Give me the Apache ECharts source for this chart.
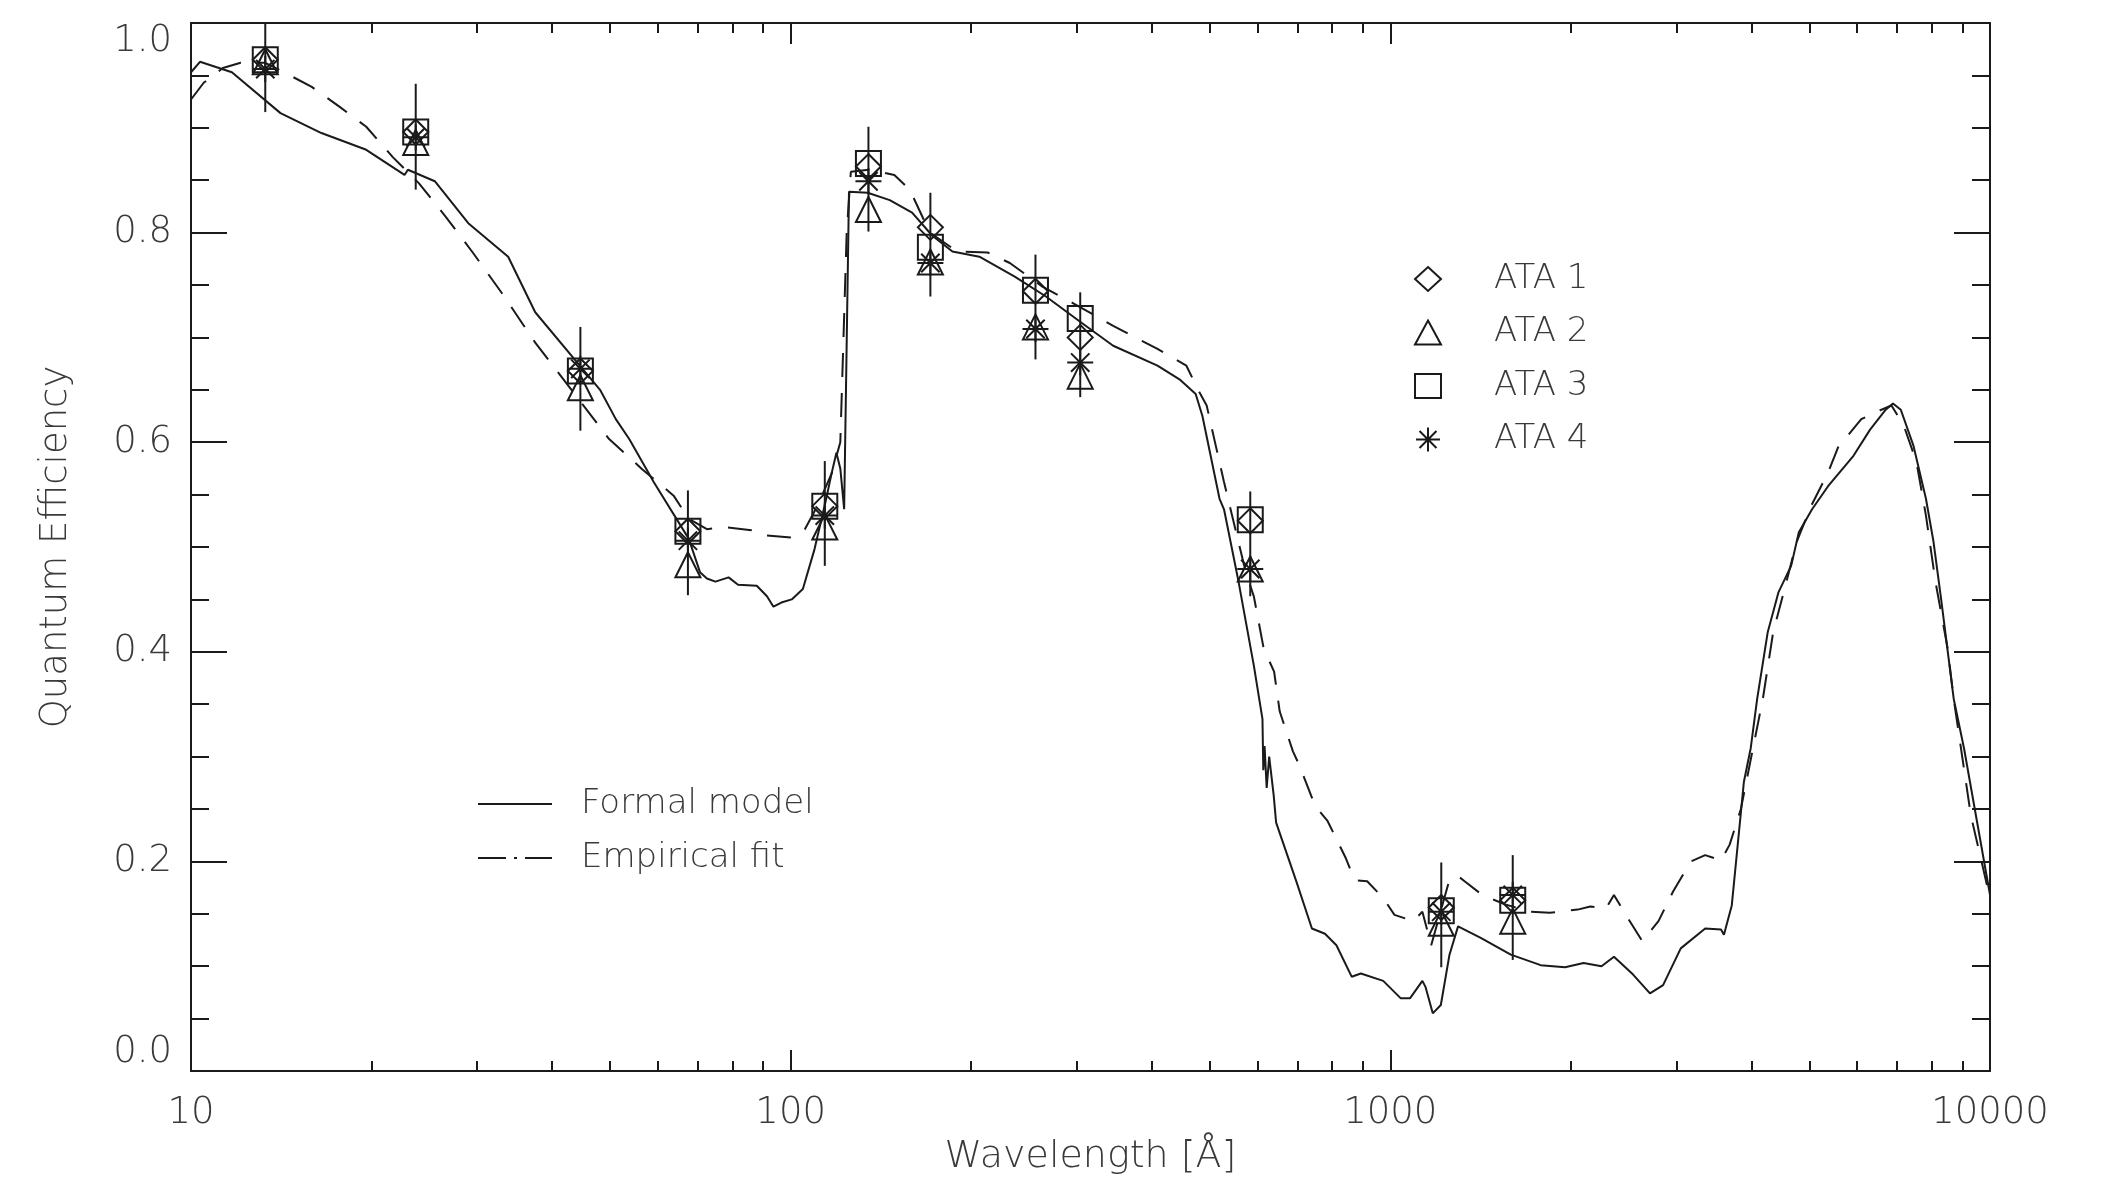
<!DOCTYPE html>
<html>
<head>
<meta charset="utf-8">
<script src="https://cdn.jsdelivr.net/npm/echarts@6/dist/echarts.min.js"></script>
<style>
html,body{margin:0;padding:0;background:#fff;}
#chart{width:2111px;height:1181px;}
</style>
</head>
<body>
<div id="chart"></div>
<script>
// ---- data ----
const pointWavelengths = [13.3, 23.7, 44.6, 67.4, 114, 134.8, 171, 256, 304, 584, 1216, 1600];
const ata1 = [0.965, 0.896, 0.668, 0.515, 0.539, 0.863, 0.805, 0.744, 0.700, 0.525, 0.156, 0.163];
const ata2 = [0.963, 0.886, 0.652, 0.483, 0.519, 0.822, 0.772, 0.710, 0.663, 0.479, 0.141, 0.143];
const ata3 = [0.965, 0.896, 0.668, 0.515, 0.539, 0.866, 0.786, 0.745, 0.718, 0.526, 0.153, 0.163];
const ata4 = [0.956, 0.891, 0.670, 0.506, 0.530, 0.849, 0.771, 0.708, 0.676, 0.479, 0.152, 0.168];
const errLow  = [0.915, 0.841, 0.611, 0.454, 0.482, 0.801, 0.739, 0.679, 0.643, 0.453, 0.099, 0.106];
const errHigh = [1.000, 0.942, 0.710, 0.554, 0.582, 0.901, 0.838, 0.779, 0.743, 0.553, 0.199, 0.206];

const modelWave = [10, 10.35, 11.7, 14.1, 16.5, 19.6, 22.7, 23.0, 25.5, 29.0, 33.8, 37.5, 44.5, 48.1, 51.1, 53.8, 59.1, 67.6, 70.6, 72.5, 74.9, 78.8, 81.7, 87.8, 91.3, 93.6, 96.5, 100.4, 104.8, 109.6, 114.3, 117, 119.2, 121, 122.8, 125.1, 134.4, 146.3, 159.4, 172.3, 186.1, 206.4, 236.4, 266.5, 305.5, 345, 409, 445, 473.6, 486, 519, 528, 557, 592, 612, 614, 617, 622, 628, 639, 645, 697, 740, 778, 813, 862, 893, 973, 1040, 1079, 1131, 1145, 1177, 1214, 1255, 1297, 1415, 1588, 1781, 1956, 2100, 2250, 2360, 2540, 2710, 2850, 3050, 3350, 3560, 3600, 3710, 3887, 3990, 4090, 4260, 4440, 4660, 4800, 5050, 5370, 5920, 6310, 6700, 6890, 7100, 7450, 7820, 8050, 8290, 8700, 9050, 10000];
const modelQE = [0.953, 0.963, 0.953, 0.914, 0.895, 0.879, 0.855, 0.860, 0.849, 0.809, 0.777, 0.724, 0.673, 0.650, 0.622, 0.603, 0.562, 0.508, 0.476, 0.470, 0.467, 0.471, 0.464, 0.463, 0.453, 0.443, 0.447, 0.450, 0.460, 0.498, 0.543, 0.570, 0.590, 0.575, 0.536, 0.839, 0.838, 0.831, 0.819, 0.797, 0.782, 0.777, 0.758, 0.739, 0.714, 0.692, 0.673, 0.660, 0.646, 0.625, 0.546, 0.536, 0.470, 0.387, 0.336, 0.287, 0.310, 0.270, 0.300, 0.263, 0.237, 0.181, 0.136, 0.131, 0.120, 0.090, 0.093, 0.086, 0.0695, 0.0695, 0.086, 0.080, 0.055, 0.063, 0.111, 0.138, 0.127, 0.111, 0.101, 0.099, 0.103, 0.100, 0.109, 0.092, 0.074, 0.082, 0.117, 0.136, 0.135, 0.130, 0.158, 0.276, 0.308, 0.355, 0.419, 0.457, 0.482, 0.514, 0.536, 0.558, 0.587, 0.612, 0.631, 0.637, 0.631, 0.597, 0.546, 0.505, 0.450, 0.355, 0.308, 0.168];

const fitWave = [10, 10.5, 11.3, 12.1, 13.3, 14.4, 15.9, 17.7, 19.6, 21.7, 24.0, 26.6, 29.5, 33.3, 37.5, 40.9, 49.8, 56.6, 63.8, 67.6, 72.5, 77.7, 86, 91.3, 100.4, 105.6, 111, 117, 121, 124, 126, 135, 148.9, 158, 170.6, 189.5, 213, 232, 262, 295, 345, 409, 457, 478, 494, 528, 574, 592, 615, 640, 654, 688, 706, 749, 785, 843, 872, 915, 973, 1016, 1092, 1131, 1170, 1254, 1297, 1330, 1423, 1553, 1706, 1844, 2053, 2155, 2288, 2360, 2470, 2630, 2800, 2960, 3170, 3350, 3560, 3680, 3842, 4180, 4350, 4530, 4760, 5030, 5370, 5580, 6100, 6590, 6850, 7180, 7540, 7820, 8110, 8500, 8700, 9290, 10000];
const fitQE = [0.927, 0.943, 0.957, 0.962, 0.962, 0.952, 0.939, 0.920, 0.901, 0.872, 0.847, 0.815, 0.781, 0.739, 0.695, 0.667, 0.603, 0.574, 0.549, 0.527, 0.517, 0.519, 0.516, 0.511, 0.509, 0.517, 0.540, 0.570, 0.600, 0.800, 0.858, 0.860, 0.855, 0.841, 0.800, 0.782, 0.781, 0.771, 0.749, 0.733, 0.711, 0.689, 0.673, 0.650, 0.635, 0.562, 0.476, 0.453, 0.403, 0.381, 0.343, 0.305, 0.291, 0.253, 0.239, 0.203, 0.182, 0.181, 0.165, 0.149, 0.143, 0.152, 0.120, 0.182, 0.186, 0.181, 0.168, 0.159, 0.152, 0.151, 0.154, 0.157, 0.155, 0.168, 0.149, 0.124, 0.143, 0.171, 0.200, 0.206, 0.201, 0.216, 0.250, 0.355, 0.419, 0.457, 0.505, 0.539, 0.571, 0.595, 0.622, 0.631, 0.635, 0.616, 0.581, 0.530, 0.467, 0.403, 0.355, 0.244, 0.165];

const xMajorTicks = [10, 100, 1000, 10000];
const yTickLabels = ['0.0', '0.2', '0.4', '0.6', '0.8', '1.0'];
const seriesNames = ['ATA 1', 'ATA 2', 'ATA 3', 'ATA 4'];
const lineNames = ['Formal model', 'Empirical fit'];

// ---- build ----
const xMinorTicks = [];
for (let d = 10; d < 10000; d *= 10) for (let m = 2; m <= 9; m++) xMinorTicks.push(d * m);

const zip = (a, b) => a.map((v, i) => [v, b[i]]);
const INK = '#1a1a1a';
const TXT = '#3a3a3a';
const FONT = '"DejaVu Sans", sans-serif';
const FW = 200;
const axisLine = { show: true, lineStyle: { color: INK, width: 2 } };
const asterisk = 'path://M10 0 L10 20 M0 10 L20 10 M2.93 2.93 L17.07 17.07 M2.93 17.07 L17.07 2.93';
const symbols = ['diamond', 'triangle', 'rect', asterisk];
const pointSets = [ata1, ata2, ata3, ata4];

function logAxis(pos, ticks, len, line, labels) {
  return {
    type: 'log', logBase: 10, min: 10, max: 10000, position: pos, gridIndex: 0,
    axisLine: line ? axisLine : { show: false },
    axisTick: { show: true, inside: true, length: len, customValues: ticks, lineStyle: { color: INK, width: 2 } },
    axisLabel: labels ? {
      show: true, customValues: xMajorTicks, color: TXT, fontFamily: FONT, fontWeight: FW, fontSize: 37, margin: 24,
      formatter: v => String(Math.round(v))
    } : { show: false },
    splitLine: { show: false }, minorTick: { show: false }, minorSplitLine: { show: false }
  };
}
const xAxes = [
  Object.assign(logAxis('bottom', xMajorTicks, 21, true, true), {
    name: 'Wavelength [Å]', nameLocation: 'middle', nameGap: 67,
    nameTextStyle: { color: TXT, fontFamily: FONT, fontWeight: FW, fontSize: 38 }
  }),
  logAxis('bottom', xMinorTicks, 10, false, false),
  logAxis('top', xMajorTicks, 21, true, false),
  logAxis('top', xMinorTicks, 10, false, false)
];

function valAxis(pos, labels) {
  const ax = {
    type: 'value', min: 0, max: 1, interval: 0.2, position: pos,
    axisLine: axisLine,
    axisTick: { show: true, inside: true, length: 36, lineStyle: { color: INK, width: 2 } },
    minorTick: { show: true, splitNumber: 4, length: 18, lineStyle: { color: INK, width: 2 } },
    splitLine: { show: false }, minorSplitLine: { show: false },
    axisLabel: labels ? {
      show: true, color: TXT, fontFamily: FONT, fontWeight: FW, fontSize: 37, margin: 19,
      formatter: v => yTickLabels[Math.round(v * 5)],
      verticalAlignMinLabel: 'bottom', verticalAlignMaxLabel: 'top'
    } : { show: false }
  };
  if (labels) {
    ax.name = 'Quantum Efficiency';
    ax.nameLocation = 'middle';
    ax.nameGap = 116;
    ax.nameTextStyle = { color: TXT, fontFamily: FONT, fontWeight: FW, fontSize: 37 };
  }
  return ax;
}

const series = [
  {
    name: lineNames[0], type: 'line', data: zip(modelWave, modelQE), symbol: 'none', smooth: false,
    lineStyle: { color: INK, width: 2, type: 'solid' }, itemStyle: { color: INK }, z: 3, animation: false
  },
  {
    name: lineNames[1], type: 'line', data: zip(fitWave, fitQE), symbol: 'none', smooth: false,
    lineStyle: { color: INK, width: 2, type: [24, 16] }, itemStyle: { color: INK }, z: 3, animation: false
  },
  {
    name: 'errors', type: 'custom', data: pointWavelengths.map((w, i) => [w, errLow[i], errHigh[i]]),
    renderItem: (params, api) => {
      const p0 = api.coord([api.value(0), api.value(1)]);
      const p1 = api.coord([api.value(0), api.value(2)]);
      return { type: 'line', shape: { x1: p0[0], y1: p0[1], x2: p1[0], y2: p1[1] }, style: { stroke: INK, lineWidth: 2 } };
    },
    z: 4, animation: false, silent: true
  }
];
pointSets.forEach((vals, k) => {
  series.push({
    name: seriesNames[k], type: 'scatter', data: zip(pointWavelengths, vals),
    symbol: symbols[k], symbolSize: k === 3 ? 26 : 25,
    itemStyle: { color: 'rgba(0,0,0,0)', borderColor: INK, borderWidth: 2, opacity: 1 },
    z: 5, animation: false
  });
});

const legendText = { color: TXT, fontFamily: FONT, fontWeight: FW, fontSize: 34, lineHeight: 34 };
const solidIcon = 'path://M0 0 H74 V2 H0 Z';
const dashDotIcon = 'path://M0 0 H28 V2 H0 Z M36 0 H39 V2 H36 Z M47 0 H74 V2 H47 Z';
const option = {
  backgroundColor: '#ffffff',
  animation: false,
  grid: { left: 191, right: 121, top: 23, bottom: 108, containLabel: false },
  xAxis: xAxes,
  yAxis: [valAxis('left', true), valAxis('right', false)],
  legend: [
    {
      data: seriesNames, orient: 'vertical', left: 1414, top: 262, itemGap: 19.5, padding: 0,
      itemWidth: 26, itemHeight: 24, selectedMode: false,
      textStyle: Object.assign({ padding: [0, 0, 0, 48] }, legendText)
    },
    {
      data: [
        { name: lineNames[0], icon: solidIcon, itemStyle: { color: INK, borderWidth: 0 } },
        { name: lineNames[1], icon: dashDotIcon, itemStyle: { color: INK, borderWidth: 0 } }
      ],
      orient: 'vertical', left: 478, top: 787, itemGap: 20, padding: 0,
      itemWidth: 74, itemHeight: 2, selectedMode: false,
      textStyle: Object.assign({ padding: [0, 0, 0, 24] }, legendText)
    }
  ],
  series: series
};

const chart = echarts.init(document.getElementById('chart'), null, { renderer: 'canvas' });
chart.setOption(option);
</script>
</body>
</html>
